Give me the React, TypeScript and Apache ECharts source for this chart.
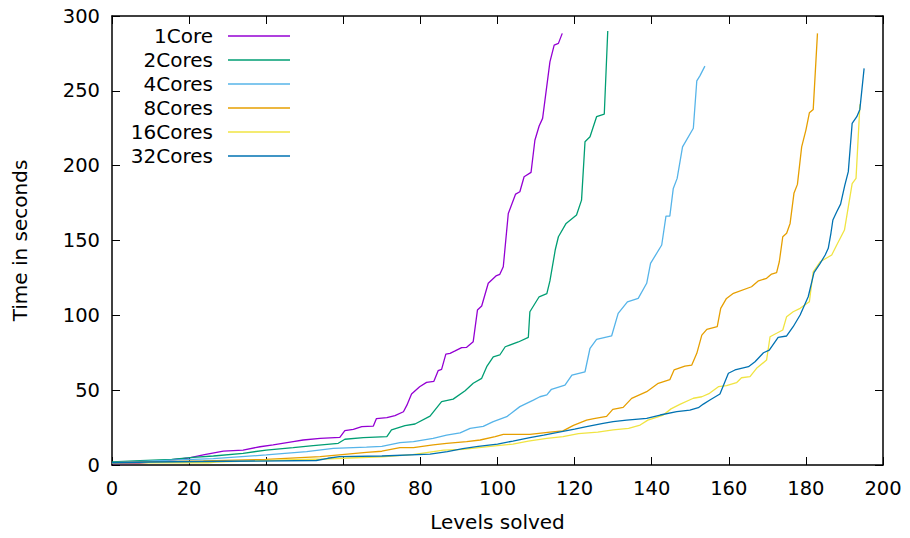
import React, { useEffect, useRef } from "react";
import * as echarts from "echarts";

const seriesNames = ["1Core", "2Cores", "4Cores", "8Cores", "16Cores", "32Cores"];
const seriesColors = ["#9400d3", "#009e73", "#56b4e9", "#e69f00", "#f0e442", "#0072b2"];

const xTicks = { min: 0, max: 200, interval: 20 };
const yTicks = { min: 0, max: 300, interval: 50 };

const core1Levels = [0, 7, 12, 19.4, 24, 28.9, 34, 38.4, 41.8, 47, 49.6, 54, 59.1, 60.4, 62.6, 64.8, 67.8, 68.6, 71.3, 73.4, 75.6, 76.5, 77.7, 79.8, 81.6, 83.5, 84.6, 85.5, 86.6, 87.7, 89, 90.7, 92, 93.7, 94.8, 95.9, 97.6, 99.6, 100.6, 101.5, 102.8, 104.7, 105.8, 106.9, 108.7, 109.7, 110.8, 111.7, 113.6, 114.7, 115.8, 116.8];
const core1Times = [1, 1.1, 2.5, 4.5, 7, 9.3, 10, 12.2, 13.4, 15.6, 16.7, 17.8, 18.5, 22.9, 23.8, 25.6, 26, 31, 31.6, 33, 35.6, 40, 47.4, 52.3, 55.2, 55.9, 63, 63.9, 74.1, 74.6, 76.2, 78.4, 78.6, 82.4, 103.5, 106.2, 121.4, 126.3, 127.4, 132.5, 168, 181, 182.6, 192.6, 195.5, 217, 226.5, 231.6, 269.4, 280.6, 281.7, 288.4];

const core2Levels = [0, 7.3, 15.5, 21, 26.3, 34, 40, 47, 52.2, 58.7, 60.4, 65.2, 71.3, 72.5, 76, 78.6, 82.5, 85.5, 88.5, 91.6, 93.7, 95.9, 97.2, 98.9, 100.6, 102, 105.4, 108, 108.4, 110.8, 112.8, 113.6, 115, 115.8, 117.8, 120.5, 121.8, 122.7, 124, 125.7, 127.7, 128.6];
const core2Times = [2, 2.9, 3.8, 5.1, 6, 7.8, 10, 11.6, 12.9, 14.5, 17.2, 18.3, 18.9, 23.4, 26.3, 27.4, 32.7, 42.3, 44, 49.6, 54.6, 57.9, 65.7, 72.3, 73.5, 79, 82.2, 85.3, 102.4, 112.4, 114.5, 123, 144, 152.5, 161.4, 167, 177, 216, 219.3, 232.7, 234.5, 290];

const core4Levels = [0, 15.5, 26.3, 40, 50.5, 57.4, 66, 70, 74.7, 78.2, 83.3, 86.8, 90.3, 92.9, 96.3, 98.9, 102.4, 105.8, 109.3, 111, 112.8, 114, 117.5, 119.3, 122.7, 124, 125.7, 129.6, 131.3, 133.7, 136.5, 138.7, 139.7, 142.6, 143.7, 144.7, 145.6, 146.6, 148, 150.8, 151.7, 152.5, 153.8];
const core4Times = [1.5, 3.3, 4.2, 6.7, 8.9, 11.1, 12, 12.5, 15, 15.6, 17.8, 20, 21.5, 24.5, 25.8, 29, 32.3, 39, 43.4, 45.6, 46.8, 50.6, 53.4, 60.1, 62.3, 78, 84, 86.2, 101.3, 109, 111.3, 121.4, 134.7, 147, 166.3, 166.3, 184.8, 191.5, 212.6, 225, 256.7, 260, 266.5];

const core8Levels = [0, 23.7, 40, 54, 66, 70, 74.7, 78.2, 83.3, 86.8, 92, 95.5, 99.4, 101.5, 108.4, 113.6, 117, 119.7, 123.1, 125, 128.3, 129.9, 132.6, 134.8, 138.7, 141.7, 144.7, 145.8, 148.6, 150.4, 151.7, 153, 154.3, 157, 157.9, 159.4, 161.2, 165.9, 167.7, 169.8, 171.1, 172.4, 173.1, 174, 175, 175.9, 176.9, 177.8, 178.9, 180, 180.9, 181.9, 183];
const core8Times = [1.5, 2.7, 3.8, 5.6, 8.5, 9.2, 11.6, 11.6, 13.4, 14.5, 15.6, 16.7, 18.9, 20.5, 20.5, 22, 22.8, 26.5, 30, 31, 32.5, 37.2, 38.5, 44.5, 49, 54.6, 57, 63.5, 66.1, 66.8, 74.6, 86.8, 90.6, 92.4, 104.7, 111.3, 114.7, 119.1, 123.1, 124.7, 127.6, 128.5, 135.8, 152.5, 154.8, 161.4, 181.5, 187.5, 212.6, 223.8, 235.3, 237.6, 288.4];

const core16Levels = [0, 25, 27, 40, 55, 65, 70, 78, 86, 91, 100, 104, 108, 112.8, 117, 121, 126, 130, 134, 137, 139, 143, 145, 147.3, 150.8, 153, 155, 157.3, 159.4, 162, 163.3, 165.5, 167.2, 169.8, 170.7, 172.4, 174, 175, 176.7, 178.5, 180.9, 181.9, 183.7, 186.7, 188, 190, 192, 193, 193.9, 194];
const core16Times = [1.5, 1.5, 2, 3, 4, 5, 5.5, 7, 10, 10.5, 13, 14, 16, 17.8, 19, 21, 22, 23.4, 24.5, 26.7, 30, 33.4, 37.5, 40.5, 44.6, 45.6, 47.9, 52.3, 53, 55, 58.3, 59, 64.6, 70.1, 85.7, 88, 90.2, 99.1, 102.4, 104.7, 109.1, 129.1, 135.8, 140.3, 147, 157, 188, 191.5, 235, 241];

const core32Levels = [0, 10, 30, 53, 56, 59, 70, 82.5, 87, 91, 95, 100, 104, 108.4, 112, 115.3, 120, 123.1, 127.4, 130, 133.5, 138.7, 142.2, 146.5, 149.9, 152.1, 153.4, 155.1, 157.7, 159.9, 161.6, 165.1, 166.8, 169, 170.5, 172.8, 175, 176.7, 178.5, 180.6, 182.1, 183.7, 185, 185.8, 186.5, 187, 188, 189, 190.1, 191, 192, 193.2, 194, 195.1];
const core32Times = [1.5, 2, 2.5, 3, 4.5, 5.6, 6, 7.3, 9, 11, 12.5, 14, 16, 18.3, 20, 21.6, 24, 25.6, 27.8, 29, 30, 31.2, 33.4, 35.6, 36.7, 38.3, 40.7, 43.4, 47.4, 61.3, 63.5, 65.7, 69, 75, 76.8, 85.3, 86.2, 92.4, 100.2, 112.4, 128.5, 134.7, 140.3, 144.8, 155, 163.7, 169.2, 174.3, 187, 196, 228.3, 232.7, 237.6, 265];

const allLevels = [core1Levels, core2Levels, core4Levels, core8Levels, core16Levels, core32Levels];
const allTimes = [core1Times, core2Times, core4Times, core8Times, core16Times, core32Times];

const FONT = "DejaVu Sans";
const FS = 20;
const TICK_FS = 19.5;

export default function App() {
  const ref = useRef<HTMLDivElement>(null);
  useEffect(() => {
    if (!ref.current) return;
    const chart = echarts.init(ref.current, undefined, { renderer: "svg" });
    const axisCommon = {
      type: "value" as const,
      axisLine: { show: true, onZero: false, lineStyle: { color: "#000", width: 1.5 } },
      axisTick: { show: true, inside: true, length: 8, lineStyle: { color: "#000", width: 1 } },
      splitLine: { show: false },
    };
    const series = seriesNames.map((name, i) => ({
      name,
      type: "line",
      showSymbol: false,
      symbol: "none",
      data: allLevels[i].map((x, j) => [x, allTimes[i][j]]),
      lineStyle: { color: seriesColors[i], width: 1.3 },
      itemStyle: { color: seriesColors[i] },
      z: 2 + i,
    }));
    const legendGraphics: any[] = [];
    seriesNames.forEach((name, i) => {
      const y = 36 + i * 24;
      legendGraphics.push({
        type: "text",
        x: 213,
        y,
        style: { text: name, fill: "#000", font: `${FS}px "${FONT}"`, textAlign: "right", textVerticalAlign: "middle" },
      });
      legendGraphics.push({
        type: "line",
        shape: { x1: 228, y1: y, x2: 290, y2: y },
        style: { stroke: seriesColors[i], lineWidth: 1.3 },
      });
    });
    chart.setOption({
      animation: false,
      backgroundColor: "#fff",
      textStyle: { fontFamily: FONT },
      grid: { left: 112, right: 27, top: 16, bottom: 73 },
      xAxis: [
        {
          ...axisCommon,
          position: "bottom",
          min: xTicks.min,
          max: xTicks.max,
          interval: xTicks.interval,
          axisLabel: { color: "#000", fontSize: TICK_FS, fontFamily: FONT, margin: 13 },
          name: "Levels solved",
          nameLocation: "middle",
          nameGap: 47,
          nameTextStyle: { color: "#000", fontSize: FS, fontFamily: FONT },
        },
        {
          ...axisCommon,
          position: "top",
          min: xTicks.min,
          max: xTicks.max,
          interval: xTicks.interval,
          axisLabel: { show: false },
        },
      ],
      yAxis: [
        {
          ...axisCommon,
          position: "left",
          min: yTicks.min,
          max: yTicks.max,
          interval: yTicks.interval,
          axisLabel: { color: "#000", fontSize: TICK_FS, fontFamily: FONT, margin: 12 },
          name: "Time in seconds",
          nameLocation: "middle",
          nameGap: 82,
          nameTextStyle: { color: "#000", fontSize: FS, fontFamily: FONT },
        },
        {
          ...axisCommon,
          position: "right",
          min: yTicks.min,
          max: yTicks.max,
          interval: yTicks.interval,
          axisLabel: { show: false },
        },
      ],
      graphic: legendGraphics,
      series,
    });
    return () => chart.dispose();
  }, []);
  return (
    <div
      ref={ref}
      style={{ position: "fixed", left: 0, top: 0, width: 910, height: 538, background: "#fff" }}
    />
  );
}
